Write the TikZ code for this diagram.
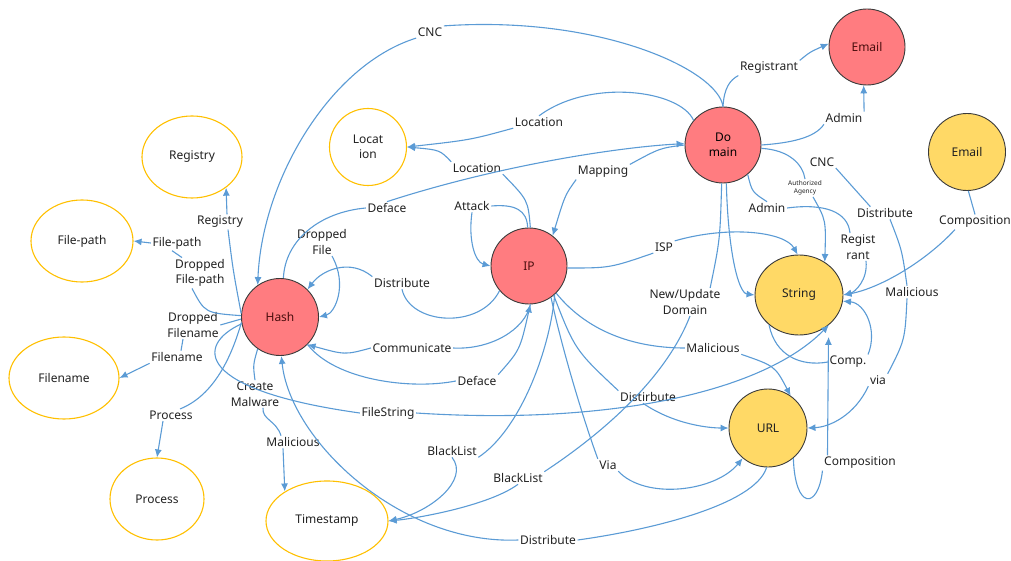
\documentclass[tikz,border=0pt]{standalone}
\usepackage{fontspec}
\setmainfont{Noto Sans}
\usetikzlibrary{arrows.meta,shapes.geometric}
\definecolor{ered}{HTML}{FF7C80}
\definecolor{eyel}{HTML}{FFD966}
\definecolor{eorg}{HTML}{FFC000}
\definecolor{eblue}{HTML}{5B9BD5}
\definecolor{ebord}{HTML}{3A3A3A}
\definecolor{etxt}{HTML}{222222}
\definecolor{rtxt}{HTML}{4A0E0E}
\begin{document}
\begin{tikzpicture}[x=1pt,y=-1pt,
  every node/.style={font=\fontsize{12}{15.5}\selectfont,text=etxt},
  redc/.style={circle,draw=ebord,fill=ered,line width=0.9pt,minimum size=76pt,inner sep=0pt,align=center,text=rtxt},
  yelc/.style={circle,draw=ebord,fill=eyel,line width=0.9pt,minimum size=77pt,inner sep=0pt,align=center},
  oute/.style={ellipse,draw=eorg,line width=1.1pt,fill=white,inner sep=0pt,align=center},
  lbl/.style={inner sep=1.5pt,align=center},
  tiny/.style={font=\fontsize{6.5}{8}\selectfont},
  ed/.style={draw=eblue,line width=1.1pt},
  ar/.style={ed,-{Latex[length=8pt,width=7pt]}},
]
\useasboundingbox (0,0) rectangle (1011,561);

% ---------- main nodes ----------
\node[redc] (Email1) at (867,47) {Email};
\node[redc,font=\fontsize{12}{15.5}\selectfont\bfseries,text=black] (Dom) at (723,145) {Do\\main};
\node[yelc] (Email2) at (967,152) {Email};
\node[redc] (IP) at (529,266) {IP};
\node[yelc,ellipse,minimum width=88pt,minimum height=80pt] (Str) at (799,295) {String};
\node[yelc,minimum size=78pt] (URL) at (768,428) {URL};
\node[redc,minimum size=77pt] (Hash) at (280,317) {Hash};
\node[oute,circle,minimum size=77pt] (Loc) at (368,147) {Locat\\ion};
\node[oute,minimum width=100pt,minimum height=82pt] (Reg) at (192,157) {Registry};
\node[oute,minimum width=102pt,minimum height=82pt] (FP) at (82,241) {File-path};
\node[oute,minimum width=110pt,minimum height=82pt] (FN) at (64,378) {Filename};
\node[oute,minimum width=94pt,minimum height=82pt] (Proc) at (157,499) {Process};
\node[oute,minimum width=122pt,minimum height=80pt] (TS) at (327,521) {Timestamp};

% ---------- labels ----------
\node[lbl] (lCNC) at (430,32) {CNC};
\node[lbl] (lRegt) at (769,68) {Registrant};
\node[lbl] (lAdm1) at (844,118) {Admin};
\node[lbl] (lLoc1) at (539,122) {Location};
\node[lbl] (lLoc2) at (477,168) {Location};
\node[lbl] (lMap) at (603,172) {Mapping};
\node[lbl] (lDef1) at (387,208) {Deface};
\node[lbl] (lAtt) at (472,206) {Attack};
\node[lbl] (lISP) at (664,247) {ISP};
\node[lbl] (lNUD) at (685,302) {New/Update\\Domain};
\node[lbl] (lCNC2) at (822,162) {CNC};
\node[lbl,tiny] (lAuth) at (805,188) {Authorized\\Agency};
\node[lbl] (lAdm2) at (767,208) {Admin};
\node[lbl] (lDist3) at (885,213) {Distribute};
\node[lbl] (lRegr) at (858,247) {Regist\\rant};
\node[lbl] (lComp) at (975,222) {Composition};
\node[lbl] (lMal2) at (912,292) {Malicious};
\node[lbl] (lVia2) at (878,380) {via};
\node[lbl] (lCompS) at (848,362) {Comp.};
\node[lbl] (lComp2) at (860,463) {Composition};
\node[lbl] (lMal1) at (713,348) {Malicious};
\node[lbl] (lDistr) at (648,397) {Distirbute};
\node[lbl] (lVia) at (608,465) {Via};
\node[lbl] (lBL1) at (452,451) {BlackList};
\node[lbl] (lBL2) at (518,478) {BlackList};
\node[lbl] (lDist4) at (548,540) {Distribute};
\node[lbl] (lFS) at (388,413) {FileString};
\node[lbl] (lDef2) at (477,381) {Deface};
\node[lbl] (lComm) at (412,348) {Communicate};
\node[lbl] (lDist1) at (402,283) {Distribute};
\node[lbl] (lDF) at (322,242) {Dropped\\File};
\node[lbl] (lRegL) at (220,222) {Registry};
\node[lbl] (lFPL) at (177,243) {File-path};
\node[lbl] (lDFP) at (200,273) {Dropped\\File-path};
\node[lbl] (lDFN) at (193,325) {Dropped\\Filename};
\node[lbl] (lFNL) at (177,357) {Filename};
\node[lbl] (lProcL) at (171,415) {Process};
\node[lbl] (lCM) at (255,394) {Create\\Malware};
\node[lbl] (lMalH) at (293,442) {Malicious};

% ---------- connectors ----------
% Domain -> Hash (CNC)
\draw[ed] (Dom.90) .. controls (718,70) and (600,15) .. (lCNC.north east);
\draw[ar] (lCNC.south west) .. controls (330,65) and (262,180) .. (Hash.125);
% Domain -> Email (Registrant, Admin)
\draw[ed] (Dom.90) .. controls (724,88) and (730,80) .. (lRegt.south west);
\draw[ar] (lRegt.north east) .. controls (810,52) .. (Email1.175);
\draw[ed] (Dom.0) .. controls (790,143) and (815,138) .. (lAdm1.south west);
\draw[ar] (lAdm1.north east) -- (Email1.265);
% Location
\draw[ed] (Dom.140) .. controls (680,90) and (590,78) .. (lLoc1.north);
\draw[ar] (lLoc1.south west) .. controls (470,140) .. (Loc.east);
\draw[ed] (IP.88) .. controls (528,200) .. (lLoc2.south east);
\draw[ar] (lLoc2.north west) .. controls (440,150) .. (Loc.east);
% Mapping
\draw[ed] (Dom.180) .. controls (660,148) .. (lMap.north east);
\draw[ar] (lMap.south west) .. controls (565,195) .. (IP.52);
% Deface Hash -> Domain
\draw[ed] (Hash.85) .. controls (285,240) and (320,212) .. (lDef1.west);
\draw[ar] (lDef1.north) .. controls (500,165) and (620,147) .. (Dom.178);
% Attack loop
\draw[ed] (IP.92) .. controls (527,210) and (515,204) .. (lAtt.east);
\draw[ar] (lAtt.south) .. controls (468,240) and (475,262) .. (IP.180);
% ISP
\draw[ed] (IP.-3) .. controls (610,268) .. (lISP.south west);
\draw[ar] (lISP.north east) .. controls (730,225) and (785,232) .. (Str.92);
% Domain -> String
\draw[ar] (Dom.-85) .. controls (728,250) and (738,293) .. (Str.180);
% New/Update Domain, BlackList
\draw[ed] (Dom.-92) .. controls (720,240) .. ([xshift=-12pt]lNUD.north east);
\draw[ed] ([xshift=5pt]lNUD.south) .. controls (665,380) and (600,435) .. (lBL2.north east);
\draw[ar] (lBL2.south) .. controls (490,505) and (420,518) .. (TS.0);
\draw[ed] (IP.-48) .. controls (550,350) and (520,430) .. (lBL1.south east);
\draw[ar] (lBL1.south) .. controls (470,480) and (430,512) .. (TS.0);
% Authorized Agency
\draw[ed] (Dom.-5) .. controls (790,150) and (803,165) .. (lAuth.north);
\draw[ar] ([xshift=8pt]lAuth.south) .. controls (826,220) .. (Str.52);
% CNC, Distribute, Malicious, via
\draw[ed] (lCNC2.south east) -- ([xshift=15pt]lDist3.north west);
\draw[ed] ([xshift=5pt]lDist3.south) .. controls (902,250) .. ([xshift=-5pt]lMal2.north);
\draw[ed] ([xshift=-5pt]lMal2.south) .. controls (905,340) .. (lVia2.north east);
\draw[ar] (lVia2.south west) .. controls (855,415) and (830,427) .. (URL.0);
% Email (yellow) composition
\draw[ed] (Email2.-88) -- (lComp.north);
\draw[ar] ([xshift=-20pt]lComp.south) .. controls (925,262) and (880,288) .. (Str.0);
% Admin, Registrant
\draw[ed] (Dom.-50) .. controls (752,192) .. (lAdm2.north);
\draw[ed] (lAdm2.east) .. controls (825,203) and (848,212) .. ([xshift=-8pt]lRegr.north);
\draw[ar] ([xshift=8pt]lRegr.south) .. controls (868,280) and (855,292) .. (Str.0);
% Comp. loop
\draw[ed] (Str.-135) .. controls (775,355) and (800,367) .. (lCompS.west);
\draw[ar] (lCompS.north east) .. controls (878,330) and (865,303) .. (Str.-8);
% IP -> URL
\draw[ed] (IP.-45) .. controls (590,335) and (640,348) .. (lMal1.west);
\draw[ar] (lMal1.south east) .. controls (775,366) .. (URL.55);
\draw[ed] (IP.-50) .. controls (575,350) .. (lDistr.north west);
\draw[ar] ([xshift=-5pt]lDistr.south) .. controls (675,425) and (710,428) .. (URL.180);
\draw[ed] (IP.-55) .. controls (560,340) and (580,410) .. (lVia.north west);
\draw[ar] (lVia.south east) .. controls (645,500) and (715,492) .. (URL.-130);
% FileString
\draw[ed] (Hash.190) .. controls (195,345) and (195,390) .. (lFS.west);
\draw[ar] (lFS.east) .. controls (600,425) and (760,395) .. (Str.-45);
% URL -> Hash (Distribute)
\draw[ed] (URL.-92) .. controls (755,505) and (650,530) .. (lDist4.east);
\draw[ar] (lDist4.west) .. controls (400,545) and (290,440) .. (Hash.-88);
% IP -> Hash (Distribute)
\draw[ed] (IP.-140) .. controls (480,330) and (410,325) .. (lDist1.south);
\draw[ar] (lDist1.north west) .. controls (350,258) and (322,270) .. (Hash.45);
% Dropped File
\draw[ar] ([xshift=10pt]lDF.south) .. controls (348,285) and (335,313) .. (Hash.0);
% Communicate, Deface
\draw[ed] (IP.-88) .. controls (525,330) and (490,350) .. (lComm.east);
\draw[ar] (lComm.west) .. controls (345,355) .. (Hash.-45);
\draw[ed] (Hash.-45) .. controls (335,380) and (410,390) .. (lDef2.west);
\draw[ar] (lDef2.north east) .. controls (520,350) .. (IP.-88);
% Hash left side
\draw[ed] (Hash.175) .. controls (233,270) .. ([xshift=8pt]lRegL.south);
\draw[ar] ([xshift=7pt]lRegL.north) -- (Reg.-42);
\draw[ed] (Hash.178) .. controls (205,313) .. ([xshift=-8pt]lDFP.south);
\draw[ed] ([xshift=-5pt]lFPL.south) -- ([xshift=-18pt]lDFP.north);
\draw[ar] (lFPL.west) -- (FP.east);
\draw[ed] (Hash.183) -- (lDFN.east);
\draw[ed] ([xshift=-10pt]lDFN.south) -- ([xshift=4pt]lFNL.north);
\draw[ar] (lFNL.south west) -- (FN.east);
\draw[ed] (Hash.188) .. controls (232,355) and (215,395) .. ([xshift=9pt]lProcL.north);
\draw[ar] ([xshift=-8pt]lProcL.south) -- (Proc.north);
\draw[ed] (Hash.-125) .. controls (253,365) .. (lCM.north);
\draw[ed] ([xshift=8pt]lCM.south) .. controls (262,420) and (276,420) .. ([xshift=-12pt]lMalH.north);
\draw[ar] ([xshift=-10pt]lMalH.south) -- (TS.145);
% URL -> String (Composition)
\draw[ed] (URL.-50) .. controls (795,510) and (818,510) .. (lComp2.south west);
\draw[ar,shorten >=12pt] ([xshift=5pt]lComp2.north west) .. controls (827,400) .. (Str.-45);
\end{tikzpicture}
\end{document}
